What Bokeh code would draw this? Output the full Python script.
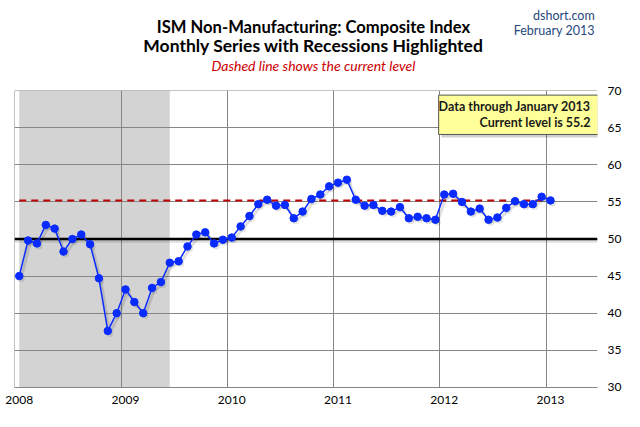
from bokeh.plotting import figure
from bokeh.layouts import column
from bokeh.models import FixedTicker, Span, Label, Range1d
from bokeh.embed import file_html
from bokeh.resources import INLINE
from bokeh.core.properties import value

# ---------------- data ----------------
year_ticks = [2008, 2009, 2010, 2011, 2012, 2013]
year_labels = ["2008", "2009", "2010", "2011", "2012", "2013"]
ism_2008 = [45.0, 49.8, 49.4, 51.9, 51.4, 48.3, 50.0, 50.6, 49.3, 44.7, 37.6, 40.0]
ism_2009 = [43.2, 41.5, 40.0, 43.4, 44.2, 46.8, 47.0, 49.0, 50.6, 50.9, 49.4, 49.9]
ism_2010 = [50.2, 51.7, 53.1, 54.7, 55.3, 54.5, 54.6, 52.8, 53.7, 55.4, 56.0, 57.1]
ism_2011 = [57.6, 58.0, 55.3, 54.5, 54.6, 53.8, 53.7, 54.3, 52.8, 53.0, 52.8, 52.6]
ism_2012 = [56.0, 56.1, 55.0, 53.7, 54.1, 52.6, 52.9, 54.2, 55.1, 54.7, 54.7, 55.7]
ism_2013 = [55.2]
ism = ism_2008 + ism_2009 + ism_2010 + ism_2011 + ism_2012 + ism_2013
month_index = list(range(len(ism)))          # months since Jan 2008
recession_first_month = 0                    # Dec 2007 recession, visible from Jan 2008
recession_last_month = 17                    # June 2009
current_level = ism[-1]
threshold = 50
y_ticks = [30, 35, 40, 45, 50, 55, 60, 65, 70]

title_1 = "ISM Non-Manufacturing: Composite Index"
title_2 = "Monthly Series with Recessions Highlighted"
subtitle = "Dashed line shows the current level"
source = "dshort.com"
date_line = "February 2013"
note_1 = "Data through January 2013"
note_2 = "Current level is %.1f" % current_level

# ---------------- layout ----------------
W = 624
HH = 80                      # header height
H = 411 - HH                 # main figure height
BL, BR, BT, BB = 14, 25, 10, 24
FW, FH = W - BL - BR, H - BT - BB
X0 = 2007.997
X1 = X0 + 5.487
Y0, Y1 = 29.97, 70.03

# reference-frame geometry used to place annotations
RF_L, RF_R, RF_T, RF_B = 14.2, 604.0, 90.3, 392.3

def dx(rx):
    return X0 + (rx - RF_L) / (RF_R - RF_L) * (X1 - X0)

def dy(ry):
    return Y1 - (ry - RF_T) / (RF_B - RF_T) * (Y1 - Y0)

def xpos(m):
    return 2008 + (m + 0.5) / 12.0

xs = [xpos(m) for m in month_index]

FONT = "Lato"
GRID = "#868686"

# ---------------- header ----------------
h = figure(width=W, height=HH, output_backend="svg", toolbar_location=None,
           x_range=Range1d(0, W), y_range=Range1d(HH, 0),
           min_border=0, x_axis_type=None, y_axis_type=None)
h.outline_line_color = None
h.grid.visible = False
h.text(x=[320], y=[26], text=[title_1], text_align="center",
       text_baseline="middle", text_font=value(FONT), text_font_size="16.6px",
       text_font_style="bold", text_color="black")
h.text(x=[320], y=[45], text=[title_2], text_align="center",
       text_baseline="middle", text_font=value(FONT), text_font_size="17.5px",
       text_font_style="bold", text_color="black")
h.text(x=[320], y=[65], text=[subtitle], text_align="center", text_baseline="middle",
       text_font=value(FONT), text_font_size="14px", text_font_style="italic",
       text_color="#cc0000")
h.text(x=[621, 621], y=[15, 30], text=[source, date_line], text_align="right",
       text_baseline="middle", text_font=value(FONT), text_font_size="12.5px",
       text_color="#1f497d")

# ---------------- main chart ----------------
p = figure(width=W, height=H, output_backend="svg", toolbar_location=None,
           x_range=Range1d(X0, X1), y_range=Range1d(Y0, Y1),
           y_axis_location="right",
           min_border_left=BL, min_border_right=BR, min_border_top=BT, min_border_bottom=BB)
p.outline_line_color = None

p.xgrid.ticker = FixedTicker(ticks=year_ticks)
p.ygrid.ticker = FixedTicker(ticks=y_ticks)
for g in (p.xgrid, p.ygrid):
    g.grid_line_color = GRID
    g.grid_line_width = 1

p.xaxis.ticker = FixedTicker(ticks=[xpos(12 * i) for i in range(len(year_ticks))])
p.xaxis.major_label_overrides = {xpos(12 * i): lab for i, lab in enumerate(year_labels)}
p.xaxis.axis_line_color = GRID
p.xaxis.major_label_standoff = 8
p.yaxis.ticker = FixedTicker(ticks=y_ticks)
p.yaxis.axis_line_color = None
p.yaxis.major_label_standoff = 10
for ax in (p.xaxis, p.yaxis):
    ax.major_tick_line_color = None
    ax.minor_tick_line_color = None
    ax.major_tick_out = 0
    ax.major_tick_in = 0
    ax.minor_tick_out = 0
    ax.major_label_text_font = FONT
    ax.major_label_text_font_size = "12px"
    ax.major_label_text_color = "black"

# recession shading (below grid)
p.quad(left=[xs[recession_first_month]], right=[xs[recession_last_month]],
       bottom=[Y0], top=[Y1], fill_color="#d3d3d3", line_color=None, level="image")

# 50 line with shadow
p.add_layout(Span(location=threshold - 0.3, dimension="width", line_color="black",
                  line_alpha=0.12, line_width=3, level="underlay"))
p.add_layout(Span(location=threshold, dimension="width", line_color="black",
                  line_width=2.5, level="underlay"))

# current level dashed line
p.line([xs[0], xs[-1] + 0.02], [current_level, current_level], line_color="#c00000",
       line_width=2, line_dash="7 5")

# series shadow
sdx = dx(RF_L + 2) - dx(RF_L)
sdy = dy(RF_T) - dy(RF_T + 2.5)
p.line([x + sdx for x in xs], [v - sdy for v in ism], line_color="black",
       line_alpha=0.12, line_width=3)
p.scatter([x + sdx for x in xs], [v - sdy for v in ism], size=7, fill_color="black",
          fill_alpha=0.1, line_color=None)
# series
p.line(xs, ism, line_color="#0a2bff", line_width=1.5)
p.scatter(xs, ism, size=7.5, fill_color="#0a2bff", line_color="#0a2bff")

# annotation box
p.quad(left=[dx(446)], right=[dx(608)], top=[dy(98)], bottom=[dy(138)],
       fill_color="black", fill_alpha=0.18, line_color=None)
p.quad(left=[dx(443.3)], right=[dx(605)], top=[dy(95)], bottom=[dy(135)],
       fill_color="#ffff99", line_color="#555555", line_width=1)
p.add_layout(Label(x=dx(597), y=dy(107), text=note_1,
                   text_align="right", text_baseline="middle", text_font=FONT,
                   text_font_size="12.5px", text_font_style="bold", text_color="#1a1a1a"))
p.add_layout(Label(x=dx(597), y=dy(123), text=note_2,
                   text_align="right", text_baseline="middle", text_font=FONT,
                   text_font_size="12.5px", text_font_style="bold", text_color="#1a1a1a"))

layout = column(h, p, spacing=0)
open("out.html", "w").write(file_html(layout, INLINE))
